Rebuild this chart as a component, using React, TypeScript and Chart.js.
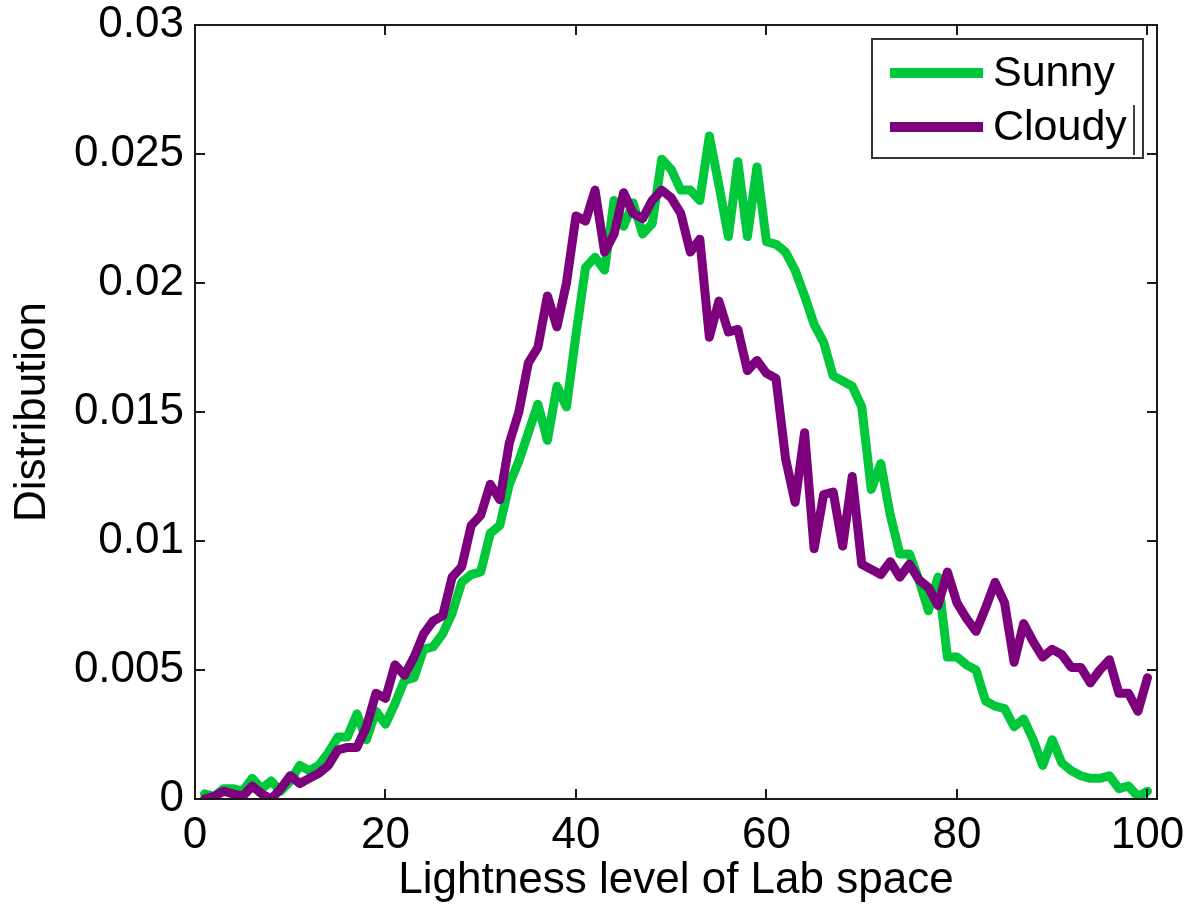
import React, { useEffect, useRef } from "react";
import { Chart, registerables } from "chart.js";

Chart.register(...registerables);

// Lightness levels (x categories)
const levels: number[] = Array.from({ length: 100 }, (_, i) => i + 1);

const sunny: number[] = [
  0.0002, 0.0001, 0.0004, 0.0004, 0.0003, 0.0008, 0.0004, 0.0007, 0.0003, 0.0007,
  0.0013, 0.0011, 0.0013, 0.0018, 0.0024, 0.0024, 0.0033, 0.0023, 0.0034, 0.0029,
  0.0037, 0.0046, 0.0047, 0.0058, 0.0059, 0.0064, 0.0072, 0.0084, 0.0087, 0.0088,
  0.0103, 0.0106, 0.0122, 0.0131, 0.0142, 0.0153, 0.0139, 0.0160, 0.0152, 0.0180,
  0.0206, 0.0210, 0.0205, 0.0232, 0.0222, 0.0231, 0.0219, 0.0223, 0.0248, 0.0244,
  0.0236, 0.0236, 0.0232, 0.0257, 0.0238, 0.0218, 0.0247, 0.0218, 0.0245, 0.0216,
  0.0215, 0.0212, 0.0205, 0.0195, 0.0184, 0.0177, 0.0164, 0.0162, 0.0160, 0.0152,
  0.0120, 0.0130, 0.0110, 0.0095, 0.0095, 0.0085, 0.0073, 0.0086, 0.0055, 0.0055,
  0.0052, 0.0050, 0.0038, 0.0036, 0.0035, 0.0028, 0.0031, 0.0023, 0.0013, 0.0023,
  0.0014, 0.0011, 0.0009, 0.0008, 0.0008, 0.0009, 0.0004, 0.0005, 0.0001, 0.0003,
];

const cloudy: number[] = [
  0.0000, 0.0001, 0.0003, 0.0002, 0.0001, 0.0005, 0.0002, 0.0000, 0.0004, 0.0009,
  0.0006, 0.0008, 0.0010, 0.0013, 0.0019, 0.0020, 0.0020, 0.0028, 0.0041, 0.0039,
  0.0052, 0.0048, 0.0055, 0.0064, 0.0069, 0.0071, 0.0086, 0.0090, 0.0106, 0.0110,
  0.0122, 0.0116, 0.0138, 0.0150, 0.0169, 0.0175, 0.0195, 0.0183, 0.0200, 0.0226,
  0.0224, 0.0236, 0.0212, 0.0219, 0.0235, 0.0227, 0.0225, 0.0232, 0.0236, 0.0233,
  0.0227, 0.0212, 0.0217, 0.0179, 0.0193, 0.0181, 0.0182, 0.0166, 0.0170, 0.0165,
  0.0163, 0.0132, 0.0115, 0.0142, 0.0097, 0.0118, 0.0119, 0.0098, 0.0125, 0.0091,
  0.0089, 0.0087, 0.0092, 0.0086, 0.0091, 0.0085, 0.0082, 0.0075, 0.0088, 0.0076,
  0.0070, 0.0065, 0.0074, 0.0084, 0.0076, 0.0053, 0.0068, 0.0061, 0.0055, 0.0058,
  0.0056, 0.0051, 0.0051, 0.0045, 0.0050, 0.0054, 0.0041, 0.0041, 0.0034, 0.0047,
];

const xTicks: number[] = [0, 20, 40, 60, 80, 100];
const yTicks: number[] = [0, 0.005, 0.01, 0.015, 0.02, 0.025, 0.03];
const seriesNames: string[] = ["Sunny", "Cloudy"];
const seriesColors: string[] = ["#00c83a", "#7d007d"];

const FONT = "'Liberation Sans', Arial, Helvetica, sans-serif";

const framePlugin = {
  id: "frameTicks",
  afterDatasetsDraw(chart: any) {
    const { ctx, chartArea: a, scales } = chart;
    const xs = scales.x;
    const ys = scales.y;
    const tl = 10;
    ctx.save();
    ctx.strokeStyle = "#1a1a1a";
    ctx.lineWidth = 2;
    ctx.strokeRect(a.left, a.top, a.right - a.left, a.bottom - a.top);
    ctx.beginPath();
    xTicks.forEach((v) => {
      const px = Math.round(xs.getPixelForValue(v));
      ctx.moveTo(px, a.bottom);
      ctx.lineTo(px, a.bottom - tl);
      ctx.moveTo(px, a.top);
      ctx.lineTo(px, a.top + tl);
    });
    yTicks.forEach((v) => {
      const py = Math.round(ys.getPixelForValue(v));
      ctx.moveTo(a.left, py);
      ctx.lineTo(a.left + tl, py);
      ctx.moveTo(a.right, py);
      ctx.lineTo(a.right - tl, py);
    });
    ctx.stroke();

    // legend
    const bx = a.right - 285;
    const by = a.top + 14;
    const bw = 271;
    const bh = 119;
    ctx.fillStyle = "#ffffff";
    ctx.fillRect(bx, by, bw, bh);
    ctx.lineWidth = 2;
    ctx.strokeStyle = "#333333";
    ctx.strokeRect(bx, by, bw, bh);
    ctx.font = `43px ${FONT}`;
    ctx.textBaseline = "alphabetic";
    ctx.textAlign = "left";
    seriesNames.forEach((name, i) => {
      const ly = by + 34 + i * 54;
      ctx.strokeStyle = seriesColors[i];
      ctx.lineWidth = 10;
      ctx.beginPath();
      ctx.moveTo(bx + 18, ly);
      ctx.lineTo(bx + 111, ly);
      ctx.stroke();
      ctx.fillStyle = "#000";
      ctx.fillText(name, bx + 121, ly + 13);
    });
    // text cursor mark after "Cloudy"
    ctx.strokeStyle = "#000";
    ctx.lineWidth = 1.5;
    ctx.beginPath();
    ctx.moveTo(bx + 262, by + 66);
    ctx.lineTo(bx + 262, by + 116);
    ctx.stroke();
    ctx.restore();
  },
};

export default function App() {
  const ref = useRef<HTMLCanvasElement | null>(null);
  useEffect(() => {
    if (!ref.current) return;
    const chart = new Chart(ref.current, {
      type: "line",
      data: {
        datasets: [
          {
            label: seriesNames[0],
            data: levels.map((x, i) => ({ x, y: sunny[i] })),
            borderColor: seriesColors[0],
            borderWidth: 9,
            pointRadius: 0,
            tension: 0,
            borderJoinStyle: "round",
            borderCapStyle: "round",
            order: 1,
          },
          {
            label: seriesNames[1],
            data: levels.map((x, i) => ({ x, y: cloudy[i] })),
            borderColor: seriesColors[1],
            borderWidth: 9,
            pointRadius: 0,
            tension: 0,
            borderJoinStyle: "round",
            borderCapStyle: "round",
            order: 0,
          },
        ],
      },
      options: {
        animation: false,
        responsive: false,
        layout: { padding: { top: 25, right: 34, left: 0, bottom: 0 } },
        plugins: { legend: { display: false }, tooltip: { enabled: false } },
        scales: {
          x: {
            type: "linear",
            min: 0,
            max: 101,
            afterBuildTicks: (s: any) => {
              s.ticks = xTicks.map((v) => ({ value: v }));
            },
            afterFit: (s: any) => {
              s.height = 108;
              s.paddingLeft = 0;
              s.paddingRight = 0;
            },
            grid: { display: false, drawTicks: false },
            border: { display: false },
            ticks: {
              color: "#000",
              font: { family: FONT, size: 44 },
              padding: 10,
              maxRotation: 0,
              autoSkip: false,
              callback: (v: any) => String(v),
            },
            title: {
              display: true,
              text: "Lightness level of Lab space",
              color: "#000",
              font: { family: FONT, size: 44 },
              padding: { top: 0, bottom: 0 },
            },
          },
          y: {
            type: "linear",
            min: 0,
            max: 0.03,
            afterBuildTicks: (s: any) => {
              s.ticks = yTicks.map((v) => ({ value: v }));
            },
            afterFit: (s: any) => {
              s.width = 195;
              s.paddingTop = 0;
              s.paddingBottom = 0;
            },
            grid: { display: false, drawTicks: false },
            border: { display: false },
            ticks: {
              color: "#000",
              font: { family: FONT, size: 44 },
              padding: 11,
              autoSkip: false,
              callback: (v: any) => String(parseFloat(Number(v).toFixed(3))),
            },
            title: {
              display: true,
              text: "Distribution",
              color: "#000",
              font: { family: FONT, size: 44 },
              padding: { top: 6, bottom: 0 },
            },
          },
        },
      },
      plugins: [framePlugin],
    });
    return () => chart.destroy();
  }, []);
  return (
    <div style={{ position: "absolute", left: 0, top: 0, width: 1191, height: 907, background: "#fff" }}>
      <canvas ref={ref} width={1191} height={907} style={{ display: "block" }} />
    </div>
  );
}
